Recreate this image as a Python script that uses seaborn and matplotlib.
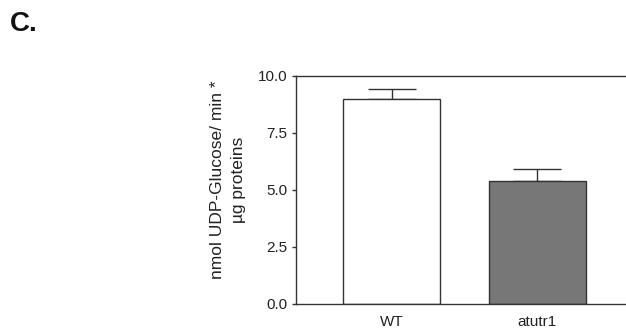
import numpy as np
import pandas as pd
import matplotlib
matplotlib.use('Agg')
import matplotlib.pyplot as plt
import seaborn as sns

# data
genotypes = ['WT', 'atutr1']
activity = [9.0, 5.4]
sem = [0.45, 0.5]
bar_colors = ['white', '#777777']

sns.set_style('ticks')
plt.rcParams['font.family'] = ['Liberation Sans', 'DejaVu Sans']

df = pd.DataFrame({'genotype': genotypes, 'activity': activity})

fig = plt.figure(figsize=(6.26, 3.29), dpi=100)
ax = fig.add_axes([0.473, 0.076, 0.527, 0.693])

line_col = '#333333'
sns.barplot(data=df, x='genotype', y='activity', hue='genotype', palette=bar_colors,
            width=0.667, edgecolor=line_col, linewidth=1.0, legend=False, ax=ax, zorder=2)

# one-sided error bars (upper only)
ax.errorbar(np.arange(len(genotypes)), activity, yerr=[[0] * len(sem), sem],
            fmt='none', ecolor=line_col, elinewidth=1.0, capsize=17.5, capthick=1.0, zorder=1)

ax.set_xlim(-0.656, 1.61)
ax.set_ylim(0, 10)
ax.set_yticks([0, 2.5, 5.0, 7.5, 10.0])
ax.set_yticklabels(['0.0', '2.5', '5.0', '7.5', '10.0'])

for side in ['left', 'bottom', 'top']:
    ax.spines[side].set_color(line_col)
    ax.spines[side].set_linewidth(1.0)
ax.spines['right'].set_visible(False)

ax.tick_params(axis='y', length=3, width=1.0, color=line_col, labelsize=11, pad=3.5, labelcolor='#222222')
ax.tick_params(axis='x', length=0, labelsize=11, pad=8, labelcolor='#222222')
ax.set_xlabel('')
ax.set_ylabel('nmol UDP-Glucose/ min *\nµg proteins', fontsize=12.5, color='#222222',
              linespacing=1.5)
ax.yaxis.set_label_coords(-0.152, 0.545)

fig.text(0.016, 0.905, 'C.', fontsize=20, fontweight='bold', color='#111111')

fig.savefig('out.png', dpi=100)
